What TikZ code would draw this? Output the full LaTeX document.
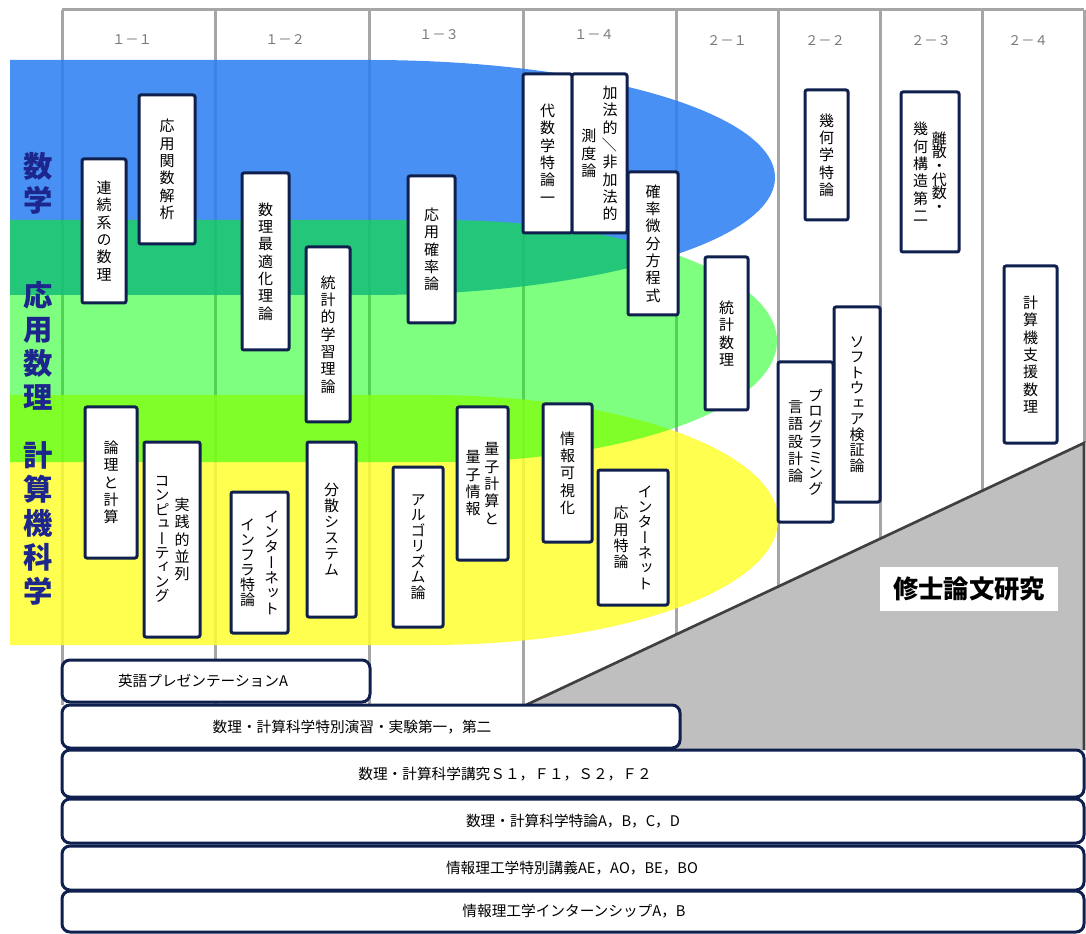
\documentclass[tikz,border=0pt]{standalone}
\usepackage{fontspec}
\usepackage{graphicx}
\newfontfamily\jfont{Noto Sans CJK JP}
\newfontfamily\vfont[RawFeature=+vert]{Noto Sans CJK JP}
\usetikzlibrary{fit}
\definecolor{navy}{RGB}{15,32,78}
\definecolor{labnavy}{RGB}{28,38,140}
\definecolor{colline}{RGB}{166,166,166}
\definecolor{bandblue}{RGB}{42,125,243}
\definecolor{bandyellow}{RGB}{255,255,49}
\definecolor{bandgreen}{RGB}{0,255,0}
\definecolor{thesisgray}{RGB}{191,191,191}
\definecolor{diagline}{RGB}{64,64,64}
\definecolor{hdrgray}{RGB}{120,120,120}
\def\vtloop#1{\ifx\relax#1\else\hbox to 12pt{\hss#1\hss}\expandafter\vtloop\fi}
\newcommand\vcol[2][13pt]{\setbox0=\vbox{\baselineskip=#1\lineskiplimit=-30pt\lineskip=0pt\vtloop#2\relax}\lower\dimexpr(\ht0-\dp0)/2\relax\box0}
\newcommand\vslash{\rotatebox[origin=c]{90}{\jfont ／}}
\newcommand\vbx[6]{\node[vbox, fit={(#2,#3) (#4,#5)}] (#1) {};
  \node[vtext] (#1t) at (#1.center) {#6};}
\tikzset{
  vbox/.style={draw=navy, line width=2.25pt, fill=white, rounded corners=1.5pt, inner sep=0pt},
  vtext/.style={inner sep=0pt, font=\vfont\fontsize{11.25}{13}\selectfont},
  bbox/.style={draw=navy, line width=2.25pt, fill=white, rounded corners=6pt, inner sep=0pt},
  btext/.style={font=\jfont\fontsize{11}{13}\selectfont, inner sep=0pt},
  hdr/.style={font=\jfont\fontsize{10}{12}\selectfont, text=hdrgray, inner sep=0pt},
  side/.style={font=\jfont\bfseries\fontsize{22}{25.5}\selectfont, text=labnavy, align=center, inner sep=0pt},
  colrule/.style={draw=colline, line width=2.25pt},
}
\begin{document}
\begin{tikzpicture}[x=0.75pt, y=-0.75pt]
\useasboundingbox (0,0) rectangle (1086,934);
\fill[white] (0,0) rectangle (1086,934);
% column rules
\foreach \cx in {62,215,369,523,676,778,880,982}
  \draw[colrule] (\cx,10) -- (\cx,705);
\draw[colrule] (62,10) -- (1084,10);
\draw[colrule] (1084,10) -- (1084,443);
% headers
\node[hdr] (h11) at (132,40) {１－１};
\node[hdr] (h12) at (285,40) {１－２};
\node[hdr] (h13) at (439,35) {１－３};
\node[hdr] (h14) at (594,35) {１－４};
\node[hdr] (h21) at (727,41) {２－１};
\node[hdr] (h22) at (825,41) {２－２};
\node[hdr] (h23) at (931,41) {２－３};
\node[hdr] (h24) at (1028,41) {２－４};
% bands
\fill[bandblue, opacity=.85] (10,60) -- (370,60) arc[start angle=-90, end angle=90, x radius=405, y radius=117.5] -- (10,295) -- cycle;
\fill[bandyellow, opacity=.85] (10,395) -- (430,395) arc[start angle=-90, end angle=90, x radius=348, y radius=125] -- (10,645) -- cycle;
\fill[bandgreen, opacity=.5] (10,220) -- (440,220) arc[start angle=-90, end angle=90, x radius=337, y radius=121] -- (10,462) -- cycle;
% side labels
\node[side] (lmath) at (38,183) {数\\学};
\node[side] (lapp) at (38,345.5) {応\\用\\数\\理};
\node[side] (lcs) at (38,523) {計\\算\\機\\科\\学};
% thesis area
\fill[thesisgray] (526,705) -- (1084,443) -- (1084,750) -- (526,750) -- cycle;
\draw[diagline, line width=2pt] (526,705) -- (1084,443) -- (1084,750);
\node[fill=white, inner sep=0pt, fit={(880,567) (1058,611)}] (thesis) {};
\node[inner sep=0pt, font=\jfont\bfseries\fontsize{19}{21}\selectfont] (thesist) at (thesis.center) {修士論文研究};
% course boxes
\vbx{b1}{82}{159}{126}{303}{\vcol{連続系の数理}}
\vbx{b2}{139}{95}{195}{244}{\vcol{応用関数解析}}
\vbx{b3}{242}{173}{289}{350}{\vcol{数理最適化理論}}
\vbx{b4}{306}{247}{350}{422}{\vcol{統計的学習理論}}
\vbx{b5}{408}{176}{455}{323}{\vcol{応用確率論}}
\vbx{b6}{523}{74}{572}{233}{\vcol{代数学特論一}}
\vbx{b7}{572}{74}{627}{233}{\vcol{測度論}\hspace{4pt}\vcol{加法的\vslash 非加法的}}
\vbx{b8}{628}{172}{678}{315}{\vcol{確率微分方程式}}
\vbx{b9}{705}{257}{748}{410}{\vcol{統計数理}}
\vbx{b10}{805}{90}{848}{220}{\vcol{幾何学特論}}
\vbx{b11}{901}{92}{959}{252}{\vcol{幾何構造第二}\hspace{2pt}\vcol[10.2pt]{離散・代数・}}
\vbx{b12}{1004}{266}{1057}{443}{\vcol{計算機支援数理}}
\vbx{b13}{834}{307}{880}{502}{\vcol[11.6pt]{ソフトウェア検証論}}
\vbx{b14}{778}{362}{833}{522}{\vcol{言語設計論}\hspace{3pt}\vcol[11.6pt]{プログラミング}}
\vbx{b15}{85}{407}{137}{558}{\vcol{論理と計算}}
\vbx{b16}{144}{442}{200}{637}{\vcol[10.8pt]{コンピューティング}\hspace{3pt}\vcol{実践的並列}}
\vbx{b17}{231}{492}{288}{633}{\vcol[11.2pt]{インフラ特論}\hspace{6pt}\vcol[11.5pt]{インターネット}}
\vbx{b18}{307}{442}{356}{617}{\vcol[12pt]{分散システム}}
\vbx{b19}{393}{467}{443}{627}{\vcol[11.6pt]{アルゴリズム論}}
\vbx{b20}{457}{407}{508}{560}{\vcol{量子情報}\hspace{2pt}\vcol{量子計算と}}
\vbx{b21}{543}{404}{592}{542}{\vcol{情報可視化}}
\vbx{b22}{598}{470}{668}{605}{\vcol[12.2pt]{応用特論}\hspace{6pt}\vcol[11.5pt]{インターネット}}
% bottom bars
\node[bbox, fit={(62,660) (370,702)}] (en) {};
\node[bbox, fit={(62,705) (680,748)}] (ex) {};
\node[bbox, fit={(62,750) (1084,797)}] (sem) {};
\node[bbox, fit={(62,799) (1084,843)}] (spt) {};
\node[bbox, fit={(62,846) (1084,890)}] (lec) {};
\node[bbox, fit={(62,891) (1084,932)}] (intern) {};
\node[btext] (ent) at (203,681) {英語プレゼンテーションA};
\node[btext] (ext) at (352,727) {数理・計算科学特別演習・実験第一，第二};
\node[btext] (semt) at (505,774) {数理・計算科学講究Ｓ１，Ｆ１，Ｓ２，Ｆ２};
\node[btext] (sptt) at (573,821) {数理・計算科学特論A，B，C，D};
\node[btext] (lect) at (572,868) {情報理工学特別講義AE，AO，BE，BO};
\node[btext] (intt) at (574,911) {情報理工学インターンシップA，B};
\end{tikzpicture}
\end{document}
